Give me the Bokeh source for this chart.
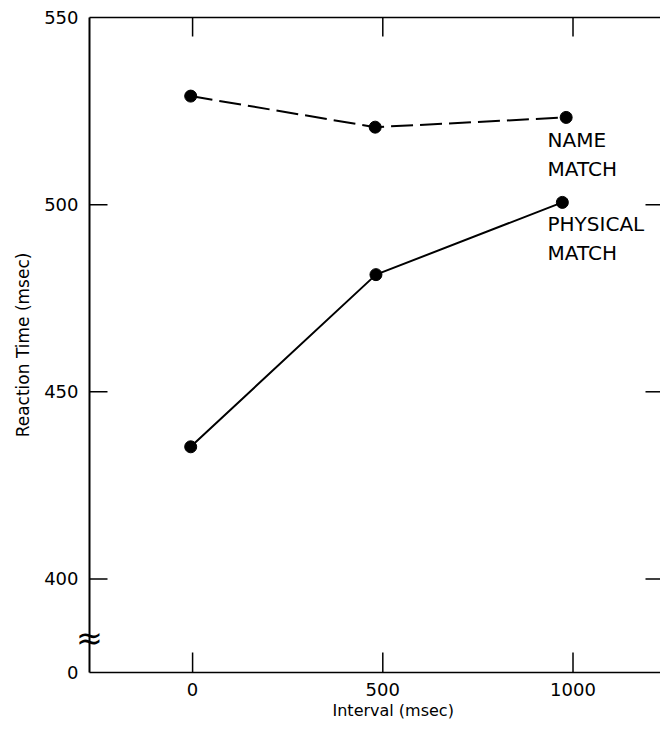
from bokeh.plotting import figure
from bokeh.models import FixedTicker, Label, Range1d, ColumnDataSource, Title
from bokeh.embed import file_html
from bokeh.resources import INLINE

# Data
interval_name = [-5, 480, 982]
rt_name = [529.0, 520.7, 523.3]
interval_physical = [-5, 482, 972]
rt_physical = [435.3, 481.3, 500.6]

x_ticks = [0, 500, 1000]
y_ticks = [375, 400, 450, 500, 550]
y_tick_labels = {375: "0"}
inner_y_ticks = [400, 450, 500]

FONT = "DejaVu Sans"

# geometry (pixels)
W, H = 660, 732
FL, FR, FT, FB = 78, 660, 15, 674     # frame edges on the page
AX_PAD = 11                            # gap between frame left and the drawn y-axis line
EDGE = 2                               # pixels kept inside the frame above/below the axis lines

# data extents
XA, XE = -271, 1230                    # x value at the y-axis line and at the right edge
YB, YT = 375, 550                      # y value at the bottom line and at the top line

ux = (XE - XA) / (FR - (FL + AX_PAD))
uy = (YT - YB) / ((FB - EDGE) - (FT + EDGE))
X0 = XA - AX_PAD * ux
Y0 = YB - EDGE * uy
Y1 = YT + EDGE * uy

p = figure(width=W, height=H, output_backend="svg", toolbar_location=None,
           x_range=Range1d(X0, XE), y_range=Range1d(Y0, Y1),
           min_border_left=FL, min_border_right=W - FR, min_border_top=FT,
           min_border_bottom=H - FB)
p.outline_line_color = None
p.grid.visible = False
p.background_fill_color = "white"
p.border_fill_color = "white"

# bottom axis: labels only
xa = p.xaxis[0]
xa.ticker = FixedTicker(ticks=x_ticks)
xa.major_label_text_font = FONT
xa.major_label_text_font_size = "18px"
xa.major_label_text_color = "black"
xa.major_label_standoff = 8
xa.major_tick_in = 0
xa.major_tick_out = 0
xa.minor_tick_line_color = None
xa.axis_line_color = None
xa.major_tick_line_color = None

p.add_layout(Title(text="Interval (msec)", align="left", offset=254, standoff=0,
                   text_font=FONT, text_font_size="16px", text_font_style="normal",
                   text_color="black"), "below")

# left axis: labels only
ya = p.yaxis[0]
ya.ticker = FixedTicker(ticks=y_ticks)
ya.major_label_overrides = y_tick_labels
ya.axis_label = "Reaction Time (msec)"
ya.axis_label_text_font = FONT
ya.axis_label_text_font_size = "17px"
ya.axis_label_text_font_style = "normal"
ya.axis_label_text_color = "black"
ya.axis_label_standoff = 8
ya.major_label_text_font = FONT
ya.major_label_text_font_size = "18px"
ya.major_label_text_color = "black"
ya.major_label_standoff = 0
ya.major_tick_in = 0
ya.major_tick_out = 0
ya.minor_tick_line_color = None
ya.axis_line_color = None
ya.major_tick_line_color = None

# frame lines: left axis, bottom axis, top line
frame_src = ColumnDataSource(dict(x0=[XA, XA, XA], y0=[YB, YB, YT],
                                  x1=[XA, XE, XE], y1=[YT, YB, YT],
                                  w=[2, 1.5, 1.5]))
p.segment(x0="x0", y0="y0", x1="x1", y1="y1", line_width="w", source=frame_src,
          line_color="black")

# inward ticks
n = len(x_ticks)
bottom_src = ColumnDataSource(dict(x=x_ticks, y0=[YB] * n, y1=[YB + 20 * uy] * n))
top_src = ColumnDataSource(dict(x=x_ticks, y0=[YT] * n, y1=[YT - 19 * uy] * n))
m = len(inner_y_ticks)
left_src = ColumnDataSource(dict(y=inner_y_ticks, x0=[XA] * m, x1=[XA + 18 * ux] * m))
right_src = ColumnDataSource(dict(y=inner_y_ticks, x0=[XE] * m, x1=[XE - 15 * ux] * m))
for src in (bottom_src, top_src):
    p.segment(x0="x", y0="y0", x1="x", y1="y1", source=src, line_color="black", line_width=1.5)
for src in (left_src, right_src):
    p.segment(x0="x0", y0="y", x1="x1", y1="y", source=src, line_color="black", line_width=1.5)

# series
p.line(interval_name, rt_name, line_color="black", line_width=2, line_dash="22 7")
p.scatter(interval_name, rt_name, size=12, color="black")
p.line(interval_physical, rt_physical, line_color="black", line_width=2)
p.scatter(interval_physical, rt_physical, size=12, color="black")

# series labels
p.add_layout(Label(x=933, y=520.4, text="NAME\nMATCH", text_font=FONT,
                   text_font_size="20px", text_color="black", text_baseline="top",
                   text_align="left"))
p.add_layout(Label(x=933, y=498.0, text="PHYSICAL\nMATCH", text_font=FONT,
                   text_font_size="20px", text_color="black", text_baseline="top",
                   text_align="left"))

# axis break mark
p.add_layout(Label(x=XA, y=384.2, text="\u2248", text_font=FONT,
                   text_font_size="32px", text_color="black", text_baseline="middle",
                   text_align="center"))

open("out.html", "w").write(file_html(p, INLINE))
